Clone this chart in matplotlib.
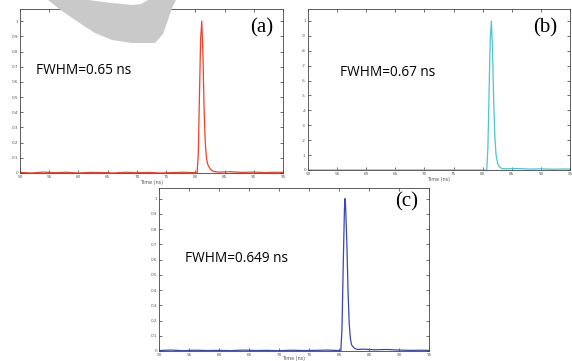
import matplotlib
matplotlib.use("Agg")
import matplotlib.pyplot as plt
from matplotlib.patches import Polygon

# pulse traces (time in ns, normalised intensity)
time_a = [50, 52, 54, 56, 58, 60, 62, 64, 66, 68, 70, 72, 74, 76, 78, 80, 80.3,
          80.5, 80.7, 80.9, 81.1, 81.3, 81.5, 81.7, 81.9, 82.1, 82.4, 82.7, 83.1,
          84, 86, 88, 90, 92, 94, 95]
int_a = [0.004, 0.0, 0.006, 0.002, 0.005, 0.0, 0.004, 0.003, 0.0, 0.005, 0.002,
         0.004, 0.0, 0.003, 0.005, 0.002, 0.0, 0.12, 0.5, 0.88, 1.0, 0.78, 0.42,
         0.2, 0.1, 0.06, 0.035, 0.02, 0.01, 0.006, 0.008, 0.004, 0.006, 0.003,
         0.005, 0.004]

time_b = [50, 55, 60, 65, 70, 75, 80, 80.7, 80.9, 81.1, 81.3, 81.5, 81.7, 81.9,
          82.1, 82.3, 82.6, 82.9, 83.3, 84, 86, 88, 90, 92, 94, 95]
int_b = [0.0, 0.0, 0.0, 0.0, 0.0, 0.0, 0.0, 0.0, 0.15, 0.52, 0.88, 1.0, 0.8,
         0.45, 0.22, 0.1, 0.04, 0.02, 0.01, 0.008, 0.01, 0.006, 0.008, 0.005,
         0.007, 0.006]
base_b = [80.9, 84.6]

time_c = [50, 52, 54, 56, 58, 60, 62, 64, 66, 68, 70, 72, 74, 76, 78, 80, 80.3,
          80.5, 80.7, 80.9, 81.0, 81.1, 81.3, 81.5, 81.7, 81.9, 82.1, 82.4, 82.7,
          83.1, 84, 86, 88, 90, 92, 94, 95]
int_c = [0.003, 0.006, 0.002, 0.005, 0.003, 0.004, 0.002, 0.006, 0.003, 0.004,
         0.002, 0.005, 0.003, 0.004, 0.006, 0.003, 0.0, 0.15, 0.55, 0.92, 1.0,
         0.95, 0.72, 0.4, 0.18, 0.08, 0.04, 0.025, 0.015, 0.01, 0.012, 0.008,
         0.01, 0.006, 0.004, 0.005, 0.004]

x_ticks = [50, 55, 60, 65, 70, 75, 80, 85, 90, 95]
y_ticks = [0, 0.1, 0.2, 0.3, 0.4, 0.5, 0.6, 0.7, 0.8, 0.9, 1]
y_labels_full = ["0", "0.1", "0.2", "0.3", "0.4", "0.5", "0.6", "0.7", "0.8", "0.9", "1"]
y_labels_cut = ["0", ".1", ".2", ".3", ".4", ".5", ".6", ".7", ".8", ".9", "1"]

W, H = 572, 361


def setup(ax, ylabels, ytop, lpad=0.5):
    ax.set_xlim(50, 95)
    ax.set_ylim(0, ytop)
    ax.set_xticks(x_ticks)
    ax.set_xticklabels([str(t) for t in x_ticks])
    ax.set_yticks(y_ticks)
    ax.set_yticklabels(ylabels)
    ax.tick_params(direction="in", length=2, width=0.5, labelsize=3,
                   top=True, right=True, pad=1.5, colors="#333333",
                   labelcolor="#555555")
    for s in ax.spines.values():
        s.set_linewidth(0.6)
        s.set_color("#444444")
    ax.set_xlabel("Time (ns)", fontsize=3.5, labelpad=lpad, color="#555555")


def px_axes(fig, x0, y0, x1, y1):
    return fig.add_axes([x0 / W, 1 - y1 / H, (x1 - x0) / W, (y1 - y0) / H])


fig = plt.figure(figsize=(5.72, 3.61), dpi=100)

ax_a = px_axes(fig, 20, 9, 283, 173)
ax_a.plot(time_a, int_a, color="#f0402a", lw=0.9)
setup(ax_a, y_labels_full, 1.08)

ax_b = px_axes(fig, 308, 9, 570, 170)
ax_b.plot(base_b, [0, 0], color="#555555", lw=0.8)
ax_b.plot(time_b, int_b, color="#4cc4d6", lw=0.9)
setup(ax_b, y_labels_cut, 1.08)

ax_c = px_axes(fig, 159, 188, 429, 351)
ax_c.plot(time_c, int_c, color="#3848b0", lw=0.9)
setup(ax_c, y_labels_full, 1.07, lpad=-0.8)

panels = [("(a)", 262, 28, "FWHM=0.65 ns", 36, 70),
          ("(b)", 545, 28, "FWHM=0.67 ns", 340, 73),
          ("(c)", 407, 202, "FWHM=0.649 ns", 185, 258)]
for label, lx, ly, note, fx, fy in panels:
    fig.text(lx / W, 1 - ly / H, label, fontsize=15, family="Liberation Serif",
             ha="center", va="center")
    fig.text(fx / W, 1 - fy / H, note, fontsize=9.8, family="Open Sans",
             va="center")

# faint grey swoosh across the top left
swoosh = [(48, 0), (62, 11), (78, 22), (95, 33), (112, 40), (132, 43),
          (155, 43), (163, 34), (168, 20), (172, 8), (176, 0), (148, 0),
          (141, 4), (132, 5), (112, 3), (88, 0)]
fig.add_artist(Polygon([(x / W, 1 - y / H) for x, y in swoosh],
                       closed=True, transform=fig.transFigure,
                       facecolor="#c9c9c9", edgecolor="none", zorder=10))

fig.savefig("out.png", dpi=100)
